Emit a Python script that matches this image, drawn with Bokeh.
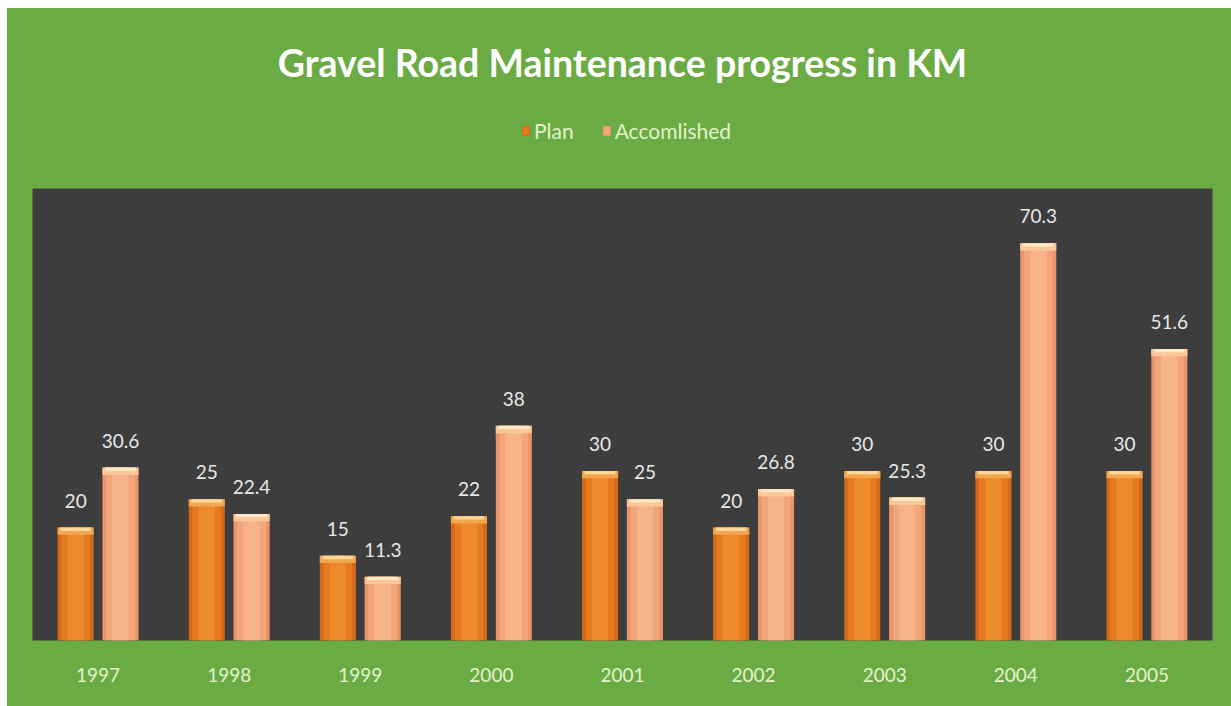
from bokeh.plotting import figure
from bokeh.layouts import column
from bokeh.models import (ColumnDataSource, FactorRange, LabelSet, Legend, LegendItem, Label, Range1d)
from bokeh.core.properties import value
from bokeh.transform import dodge
from bokeh.embed import file_html
from bokeh.resources import INLINE

years = ["1997", "1998", "1999", "2000", "2001", "2002", "2003", "2004", "2005"]
plan = [20, 25, 15, 22, 30, 20, 30, 30, 30]
accomplished = [30.6, 22.4, 11.3, 38, 25, 26.8, 25.3, 70.3, 51.6]
plan_labels = ["20", "25", "15", "22", "30", "20", "30", "30", "30"]
acc_labels = ["30.6", "22.4", "11.3", "38", "25", "26.8", "25.3", "70.3", "51.6"]
series_names = ["Plan", "Accomlished"]
title_text = "Gravel Road Maintenance progress in KM"

GREEN = "#6aab44"
DARK = "#3d3d3d"
FONT = "Lato"
PLAN_C = ["#d4691a", "#e57a1f", "#ec8a2c", "#f3a650", "#fad79a"]
ACC_C = ["#e9946a", "#f3a67a", "#f7b48a", "#f9c79a", "#fde8c4"]

W_TOTAL = 1224

# ---------- header figure: title + legend ----------
head = figure(width=W_TOTAL, height=180, x_range=Range1d(32, 1212), y_range=Range1d(0, 180),
              output_backend="svg", toolbar_location=None,
              min_border=0, min_border_left=0, min_border_right=0, min_border_top=0, min_border_bottom=0)
head.axis.visible = False
head.grid.visible = False
head.background_fill_color = GREEN
head.border_fill_color = GREEN
head.outline_line_color = GREEN
head.outline_line_width = 3

head.add_layout(Label(x=622, y=126, text=title_text, text_align="center", text_baseline="middle",
                      text_color="#ffffff", text_font=FONT, text_font_style="bold",
                      text_font_size="37.5px"))

proxy = ColumnDataSource(dict(x=[float("nan")], top=[float("nan")]))
lp = head.vbar(x="x", top="top", width=1, source=proxy, fill_color=PLAN_C[1], line_color=PLAN_C[0])
la = head.vbar(x="x", top="top", width=1, source=proxy, fill_color=ACC_C[1], line_color=ACC_C[0])
legend = Legend(items=[LegendItem(label=series_names[0], renderers=[lp]),
                       LegendItem(label=series_names[1], renderers=[la])],
                orientation="horizontal", location=(489, 45),
                background_fill_alpha=0, border_line_color=None,
                label_text_color="#e4f2cc", label_text_font=FONT, label_text_font_size="21px",
                glyph_width=9, glyph_height=11, spacing=28, label_standoff=4,
                padding=0, margin=0)
head.add_layout(legend, "center")

# ---------- main chart ----------
src = ColumnDataSource(dict(
    years=years, plan=plan, acc=accomplished,
    plan_lab=plan_labels, acc_lab=acc_labels,
    plan_bev=[v - 1.3 for v in plan], acc_bev=[v - 1.3 for v in accomplished],
    plan_bev2=[v - 0.6 for v in plan], acc_bev2=[v - 0.6 for v in accomplished],
))

p = figure(width=W_TOTAL, height=518, x_range=FactorRange(factors=years, range_padding=0),
           y_range=(0, 80), output_backend="svg", toolbar_location=None,
           min_border_left=25, min_border_right=19, min_border_bottom=66, min_border_top=0)

p.background_fill_color = DARK
p.border_fill_color = GREEN
p.outline_line_color = None
p.grid.visible = False
p.yaxis.visible = False

OFF = 0.171
W = 0.275

def bars(field, bev, bev2, off, cols):
    x = dodge("years", off, range=p.x_range)
    r = p.vbar(x=x, top=field, width=W, source=src, fill_color=cols[0], line_color=None)
    p.vbar(x=x, top=field, width=W * 0.8, source=src, fill_color=cols[1], line_color=None)
    p.vbar(x=x, top=field, width=W * 0.45, source=src, fill_color=cols[2], line_color=None)
    p.vbar(x=x, top=field, bottom=bev, width=W, source=src, fill_color=cols[3], line_color=None)
    p.vbar(x=x, top=field, bottom=bev2, width=W * 0.85, source=src, fill_color=cols[4], line_color=None)
    return r

bars("plan", "plan_bev", "plan_bev2", -OFF, PLAN_C)
bars("acc", "acc_bev", "acc_bev2", OFF, ACC_C)

# Value labels
for off, fld, lab in ((-OFF, "plan", "plan_lab"), (OFF, "acc", "acc_lab")):
    p.add_layout(LabelSet(x=dodge("years", off, range=p.x_range), y=fld, text=lab, source=src,
                          text_align="center", text_baseline="bottom", y_offset=20,
                          text_color="#e8e8e8", text_font_size="19px", text_font=value(FONT)))

# X axis
ax = p.xaxis[0]
ax.axis_line_color = None
ax.major_tick_line_color = None
ax.minor_tick_line_color = None
ax.major_label_text_color = "#e4f2cc"
ax.major_label_text_font = FONT
ax.major_label_text_font_size = "19px"
ax.major_label_standoff = 21

layout = column(head, p, spacing=0, margin=(8, 0, 0, 7), styles={"background-color": GREEN})
open("out.html", "w").write(file_html(layout, INLINE))
